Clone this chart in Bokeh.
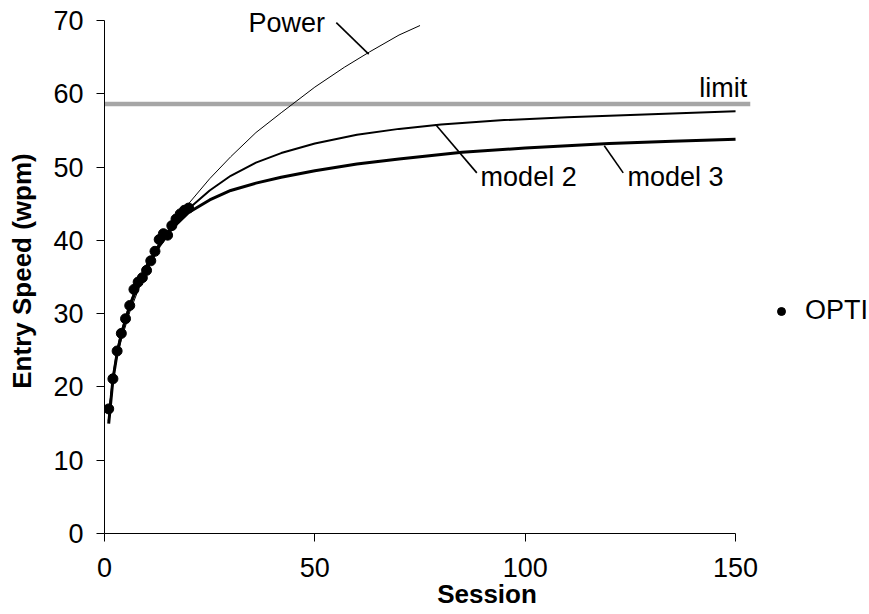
from bokeh.plotting import figure
from bokeh.models import FixedTicker, Range1d, Legend, LegendItem, LinearAxis
from bokeh.core.properties import value
from bokeh.embed import file_html
from bokeh.resources import INLINE

# ---- data ----
sessions = list(range(1, 21))
opti = [17.0, 21.1, 24.9, 27.3, 29.3, 31.1, 33.3, 34.3, 34.9, 35.9,
        37.2, 38.5, 40.1, 40.9, 40.7, 42.0, 42.9, 43.6, 44.1, 44.4]

power_x = [1, 2, 3, 4, 6, 8, 10, 13, 16, 20, 25, 30, 36, 42, 50, 57, 63, 70, 75]
power_y = [16.7, 21.0, 24.1, 26.4, 30.2, 33.2, 35.8, 39.1, 41.8, 45.0,
           48.4, 51.4, 54.7, 57.4, 60.9, 63.6, 65.7, 68.0, 69.3]

model2_x = [1, 2, 3, 4, 6, 8, 10, 13, 16, 20, 25, 30, 36, 42, 50, 60,
            70, 80, 95, 110, 130, 150]
model2_y = [15.3, 21.2, 24.8, 27.4, 31.3, 34.2, 36.6, 39.5, 41.9, 44.3,
            46.8, 48.8, 50.6, 51.9, 53.2, 54.4, 55.2, 55.8, 56.4, 56.8,
            57.2, 57.6]

model3_x = [1, 2, 3, 4, 6, 8, 10, 13, 16, 20, 25, 30, 36, 42, 50, 60,
            70, 85, 100, 120, 135, 150]
model3_y = [15.0, 21.0, 24.6, 27.2, 31.0, 33.9, 36.3, 39.2, 41.6, 43.8,
            45.5, 46.8, 47.8, 48.6, 49.5, 50.4, 51.1, 52.0, 52.6, 53.2,
            53.5, 53.8]

limit_value = 58.6
limit_x = [0, 153.5]

x_ticks = [0, 50, 100, 150]
y_ticks = [0, 10, 20, 30, 40, 50, 60, 70]

label_texts = ["Power", "limit", "model 2", "model 3"]
label_x = [34.2, 152.8, 89.4, 124.3]
label_y = [69.6, 60.8, 48.6, 48.6]
label_align = ["left", "right", "left", "left"]

leader_x0 = [55.1, 78.7, 118.8]
leader_y0 = [69.7, 55.8, 52.9]
leader_x1 = [62.8, 88.5, 123.3]
leader_y1 = [65.4, 49.2, 49.2]

x_title = "Session"
y_title = "Entry Speed (wpm)"

FONT = "Liberation Sans"
FS = "27px"
TFS = "26px"

p = figure(frame_width=765, frame_height=525,
           x_range=Range1d(0, 765 / 4.207), y_range=Range1d(0, 525 / 7.33),
           output_backend="svg", toolbar_location=None,
           min_border_left=104, min_border_top=8, min_border_right=0,
           min_border_bottom=0)
p.outline_line_color = None
p.grid.visible = False
p.background_fill_color = "white"

# limit line
p.line(limit_x, [limit_value, limit_value], line_color="#a6a6a6", line_width=4.5)

# model curves
p.line(power_x, power_y, line_color="black", line_width=1)
p.line(model2_x, model2_y, line_color="black", line_width=2)
p.line(model3_x, model3_y, line_color="black", line_width=3)

# data points
pts = p.scatter(sessions, opti, size=10, marker="circle", fill_color="black",
                line_color="black")

# leader lines
p.segment(leader_x0, leader_y0, leader_x1, leader_y1, line_color="black", line_width=1.6)

# text labels
for t, x, y, a in zip(label_texts, label_x, label_y, label_align):
    p.text([x], [y], text=[t], text_font=value(FONT), text_font_size=FS,
           text_align=a, text_baseline="alphabetic", text_color="black")

# axes
for ax in (p.xaxis[0], p.yaxis[0]):
    ax.major_tick_out = 8
    ax.major_tick_in = 0
    ax.minor_tick_out = 0
    ax.minor_tick_in = 0
    ax.axis_line_color = "black"
    ax.major_tick_line_color = "black"
    ax.major_label_text_font = FONT
    ax.major_label_text_font_size = FS
    ax.major_label_text_color = "black"

p.xaxis[0].ticker = FixedTicker(ticks=x_ticks)
p.xaxis[0].bounds = (0, 150)
p.xaxis[0].major_label_standoff = 16

p.yaxis[0].ticker = FixedTicker(ticks=y_ticks)
p.yaxis[0].bounds = (0, 70)
p.yaxis[0].major_label_standoff = 13


def title_axis(bounds, label, standoff):
    ax = LinearAxis(ticker=FixedTicker(ticks=[]), bounds=bounds,
                    axis_line_color=None, major_tick_line_color=None,
                    minor_tick_line_color=None, major_tick_out=0,
                    major_tick_in=0, minor_tick_out=0, minor_tick_in=0,
                    major_label_standoff=0, axis_label=label,
                    axis_label_standoff=standoff,
                    axis_label_text_font=FONT, axis_label_text_font_size=TFS,
                    axis_label_text_font_style="bold",
                    axis_label_text_color="black")
    return ax


p.add_layout(title_axis((0, 145.8), x_title, -1), "below")
p.add_layout(title_axis((3.4, 70), y_title, 14), "left")

legend = Legend(items=[LegendItem(label="OPTI", renderers=[pts])],
                location=(667, 207), border_line_color=None,
                background_fill_alpha=0, padding=10, margin=0,
                label_standoff=14, label_text_font=FONT,
                label_text_font_size=FS, label_text_color="black")
p.add_layout(legend)

open("out.html", "w").write(file_html(p, INLINE))
